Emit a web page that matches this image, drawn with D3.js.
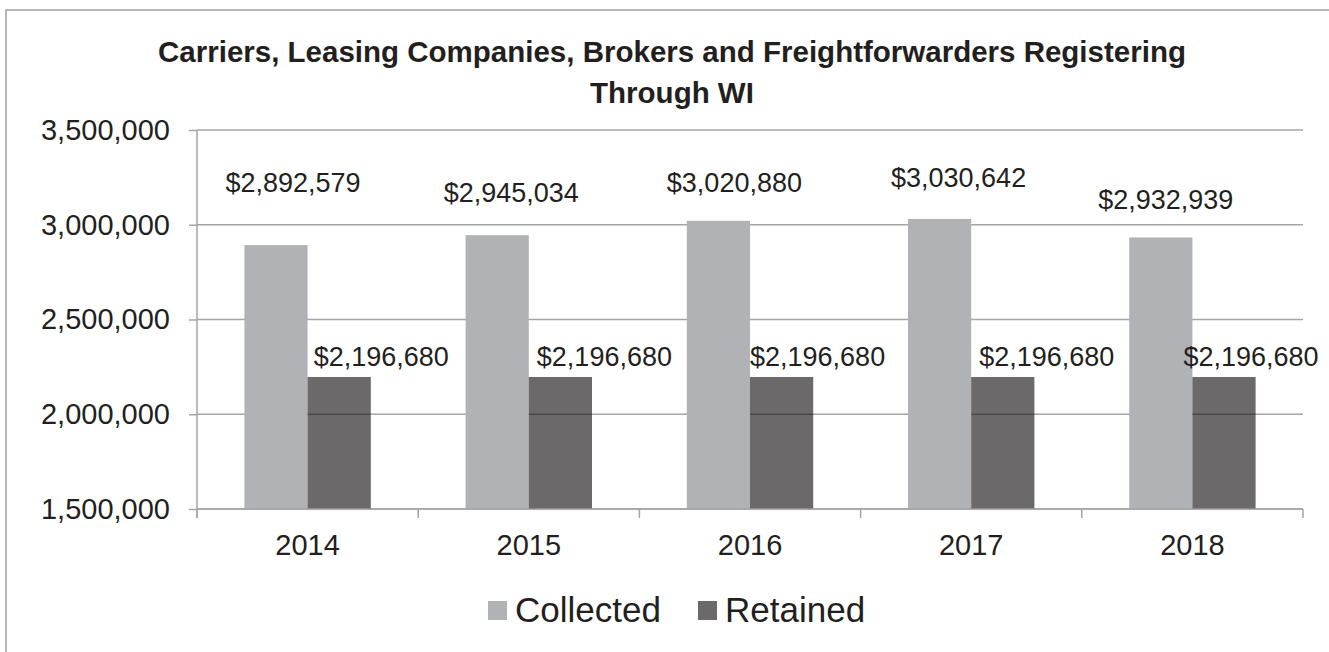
<!DOCTYPE html>
<meta charset="utf-8">
<style>
body { margin: 0; background: #fff; }
svg { display: block; font-family: "Liberation Sans", Arial, Helvetica, sans-serif; }
.axis text { fill: #231f20; font-size: 29px; }
.axis line, .axis path { stroke: #a5a5a5; stroke-width: 1.5; }
.label { fill: #231f20; font-size: 27px; }
</style>
<svg width="1329" height="652"></svg>
<script src="https://d3js.org/d3.v7.min.js"></script>
<script>

// data
var years = ["2014", "2015", "2016", "2017", "2018"];
var collected = [2892579, 2945034, 3020880, 3030642, 2932939];
var retained = [2196680, 2196680, 2196680, 2196680, 2196680];
var yTicks = [1500000, 2000000, 2500000, 3000000, 3500000];
var seriesNames = ["Collected", "Retained"];
var titleLines = ["Carriers, Leasing Companies, Brokers and Freightforwarders Registering", "Through WI"];

// hand-placed data labels in the original (px nudges from the default spot)
var collectedNudgeX = [17, 14, 16, 19, 5],
    collectedNudgeY = [-53, -33, -29, -32, -28],
    retainedNudgeX = [42, 44, 36, 44, 27];

var svg = d3.select("svg"),
    plot = {left: 197, right: 1303, top: 130, bottom: 509},
    colors = {Collected: "#b1b2b5", Retained: "#171516"};

// outer frame (runs off the right and bottom of the picture)
svg.append("rect")
    .attr("x", 6).attr("y", 10)
    .attr("width", 1340).attr("height", 660)
    .attr("fill", "none")
    .attr("stroke", "#a0a0a0")
    .attr("stroke-width", 1.5);

svg.append("text")
    .attr("x", 672)
    .attr("text-anchor", "middle")
    .attr("font-weight", "bold")
    .attr("font-size", "29.5px")
    .attr("fill", "#231f20")
  .selectAll("tspan")
  .data(titleLines)
  .enter().append("tspan")
    .attr("x", 672)
    .attr("y", function(d, i) { return 62 + i * 41; })
    .text(function(d) { return d; });

var x = d3.scaleBand()
    .domain(years)
    .range([plot.left, plot.right]);

var y = d3.scaleLinear()
    .domain([yTicks[0], yTicks[yTicks.length - 1]])
    .range([plot.bottom, plot.top]);

// excel style gap width 150%
var barW = x.bandwidth() / 3.5;

// gridlines
svg.append("g")
  .selectAll("line")
  .data(yTicks)
  .enter().append("line")
    .attr("x1", plot.left).attr("x2", plot.right)
    .attr("y1", function(d) { return y(d); })
    .attr("y2", function(d) { return y(d); })
    .attr("stroke", "#a5a5a5")
    .attr("stroke-width", 1.5);

// bars
var rows = years.map(function(yr, i) { return {year: yr, Collected: collected[i], Retained: retained[i], i: i}; });

svg.append("g")
  .selectAll("rect")
  .data(rows)
  .enter().append("rect")
    .attr("x", function(d) { return x(d.year) + x.bandwidth() / 2 - barW; })
    .attr("y", function(d) { return y(d.Collected); })
    .attr("width", barW)
    .attr("height", function(d) { return y(yTicks[0]) - y(d.Collected); })
    .attr("fill", colors.Collected);

svg.append("g")
  .selectAll("rect")
  .data(rows)
  .enter().append("rect")
    .attr("x", function(d) { return x(d.year) + x.bandwidth() / 2; })
    .attr("y", function(d) { return y(d.Retained); })
    .attr("width", barW)
    .attr("height", function(d) { return y(yTicks[0]) - y(d.Retained); })
    .attr("fill", colors.Retained)
    .attr("fill-opacity", 0.64);

// y axis
var yAxis = svg.append("g")
    .attr("class", "axis")
    .attr("transform", "translate(" + plot.left + ",0)")
    .call(d3.axisLeft(y).tickValues(yTicks).tickFormat(d3.format(",")).tickSize(8).tickSizeOuter(0).tickPadding(19));
yAxis.select(".domain").remove();
svg.append("line")
    .attr("x1", plot.left).attr("x2", plot.left)
    .attr("y1", plot.top).attr("y2", plot.bottom + 9)
    .attr("stroke", "#a5a5a5").attr("stroke-width", 1.5);

// x axis: labels centred, ticks on the category edges
var xAxis = svg.append("g")
    .attr("class", "axis")
    .attr("transform", "translate(0," + plot.bottom + ")")
    .call(d3.axisBottom(x).tickSize(0).tickPadding(25));
xAxis.select(".domain").remove();
svg.append("line")
    .attr("x1", plot.left).attr("x2", plot.right)
    .attr("y1", plot.bottom).attr("y2", plot.bottom)
    .attr("stroke", "#a5a5a5").attr("stroke-width", 1.5);
svg.append("g")
  .selectAll("line")
  .data(years.concat(["end"]))
  .enter().append("line")
    .attr("x1", function(d, i) { return plot.left + i * x.step(); })
    .attr("x2", function(d, i) { return plot.left + i * x.step(); })
    .attr("y1", plot.bottom).attr("y2", plot.bottom + 9)
    .attr("stroke", "#a5a5a5").attr("stroke-width", 1.5);

// data labels
var fmt = function(v) { return "$" + d3.format(",")(v); };
svg.append("g")
  .selectAll("text")
  .data(rows)
  .enter().append("text")
    .attr("class", "label")
    .attr("text-anchor", "middle")
    .attr("x", function(d) { return x(d.year) + x.bandwidth() / 2 - barW / 2 + collectedNudgeX[d.i]; })
    .attr("y", function(d) { return y(d.Collected) + collectedNudgeY[d.i]; })
    .text(function(d) { return fmt(d.Collected); });

svg.append("g")
  .selectAll("text")
  .data(rows)
  .enter().append("text")
    .attr("class", "label")
    .attr("text-anchor", "middle")
    .attr("x", function(d) { return x(d.year) + x.bandwidth() / 2 + barW / 2 + retainedNudgeX[d.i]; })
    .attr("y", function(d) { return y(d.Retained) - 11; })
    .text(function(d) { return fmt(d.Retained); });

// legend
var legend = svg.append("g")
  .selectAll("g")
  .data(seriesNames)
  .enter().append("g")
    .attr("transform", function(d, i) { return "translate(" + (488 + i * 210) + ",601)"; });
legend.append("rect")
    .attr("width", 19).attr("height", 19)
    .attr("fill", function(d) { return colors[d]; })
    .attr("fill-opacity", function(d) { return d === "Retained" ? 0.64 : 1; });
legend.append("text")
    .attr("x", 27).attr("y", 21)
    .attr("font-size", "35px")
    .attr("fill", "#231f20")
    .text(function(d) { return d; });

</script>
